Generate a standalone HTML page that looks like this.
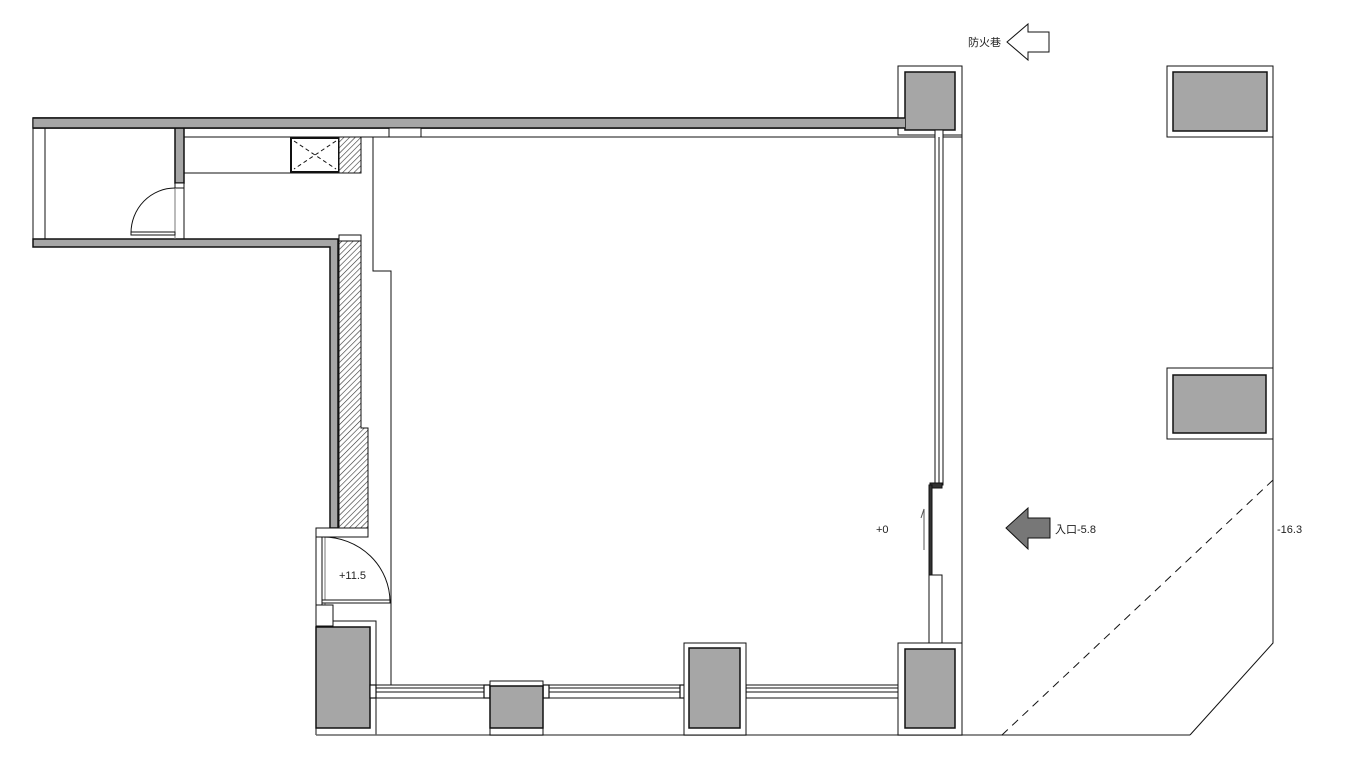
<!DOCTYPE html>
<html><head><meta charset="utf-8"><style>
html,body{margin:0;padding:0;background:#fff;}
svg{display:block;}
text{font-family:"Liberation Sans","Noto Sans CJK TC",sans-serif;font-size:11px;fill:#222;}
</style></head><body>
<svg width="1358" height="770" viewBox="0 0 1358 770" xmlns="http://www.w3.org/2000/svg">
<defs>
<pattern id="h" width="4" height="4" patternUnits="userSpaceOnUse" patternTransform="rotate(45)">
<rect width="4" height="4" fill="#fff"/><line x1="0" y1="0" x2="0" y2="4" stroke="#333" stroke-width="1.2"/>
</pattern>
</defs>
<g stroke="#111" stroke-width="1" fill="none">
<!-- top wall -->
<rect x="33" y="118" width="872" height="10" fill="#a6a6a6" stroke-width="1.5"/>
<!-- left room -->
<line x1="33" y1="128" x2="33" y2="239"/><line x1="45" y1="128" x2="45" y2="239"/>
<path d="M33 239 H338 V528 H330 V247 H33 Z" fill="#a6a6a6" stroke-width="1.5"/>
<rect x="175" y="128" width="9" height="55" fill="#a6a6a6" stroke-width="1.5"/>
<rect x="175" y="183" width="9" height="5" fill="#fff"/>
<line x1="175" y1="188" x2="175" y2="239" stroke="#777"/><line x1="184" y1="188" x2="184" y2="239"/>
<path d="M175 188 A44 45 0 0 0 131 233"/>
<rect x="131" y="232" width="44" height="3" fill="#fff"/>
<!-- kitchen -->
<line x1="184" y1="137" x2="940" y2="137"/>
<line x1="184" y1="173" x2="340" y2="173"/>
<rect x="291" y="138" width="48" height="34" stroke-width="2"/>
<path d="M294 141 L336 169 M336 141 L294 169" stroke-dasharray="4 3"/>
<rect x="339" y="137" width="22" height="36" fill="url(#h)"/>
<rect x="389" y="128" width="32" height="9" fill="#fff"/>
<!-- inner step line -->
<path d="M373 137 V271 H391 V685"/>
<!-- left hatched wall -->
<path d="M339 235 H361 V428 H368 V528 H339 Z" fill="url(#h)"/>
<rect x="339" y="235" width="22" height="6" fill="#fff"/>
<!-- door -->
<rect x="316" y="528" width="52" height="9" fill="#fff"/>
<line x1="316" y1="537" x2="316" y2="735"/>
<line x1="322" y1="537" x2="322" y2="605"/><line x1="325" y1="537" x2="325" y2="605" stroke="#777"/>
<path d="M323 537 A67 65 0 0 1 390 602"/>
<rect x="322" y="600" width="68" height="3" fill="#fff"/>
<rect x="316" y="605" width="17" height="21" fill="#fff"/>
<path d="M333 621 H376 V735"/>
<rect x="316" y="627" width="54" height="101" fill="#a6a6a6" stroke-width="1.5"/>
<!-- bottom windows -->
<line x1="370" y1="685" x2="905" y2="685"/><line x1="370" y1="688" x2="905" y2="688"/>
<line x1="370" y1="692" x2="905" y2="692"/><line x1="370" y1="698" x2="905" y2="698"/>
<line x1="316" y1="735" x2="1190" y2="735" stroke="#666" stroke-width="1.5"/>
<g stroke-width="1.2" fill="#fff">
<rect x="370" y="685" width="6" height="13"/><rect x="484" y="685" width="6" height="13"/>
<rect x="543" y="685" width="6" height="13"/><rect x="680" y="685" width="6" height="13"/>
<rect x="740" y="685" width="6" height="13"/><rect x="899" y="685" width="6" height="13"/>
</g>
<rect x="490" y="681" width="53" height="54" fill="#fff"/>
<rect x="490" y="686" width="53" height="42" fill="#a6a6a6" stroke-width="1.5"/>
<rect x="684" y="643" width="62" height="92" fill="#fff"/>
<rect x="689" y="648" width="51" height="80" fill="#a6a6a6" stroke-width="1.5"/>
<rect x="898" y="643" width="64" height="92" fill="#fff"/>
<rect x="905" y="649" width="50" height="79" fill="#a6a6a6" stroke-width="1.5"/>
<!-- top right column -->
<rect x="898" y="66" width="64" height="69" fill="#fff"/>
<rect x="905" y="72" width="50" height="58" fill="#a6a6a6" stroke-width="1.5"/>
<rect x="33" y="118" width="872" height="10" fill="#a6a6a6" stroke="none"/>
<line x1="33" y1="118" x2="905" y2="118" stroke-width="1.5"/><line x1="33" y1="128" x2="905" y2="128" stroke-width="1.5"/>
<line x1="33" y1="118" x2="33" y2="128"/>
<rect x="389" y="128" width="32" height="9" fill="#fff"/>
<!-- right wall -->
<line x1="962" y1="135" x2="962" y2="735"/>
<line x1="940" y1="137" x2="962" y2="137"/>
<rect x="935" y="130" width="8" height="355" fill="#fff"/>
<line x1="939" y1="137" x2="939" y2="485"/>
<rect x="930" y="483" width="12" height="5" fill="#333"/>
<rect x="929" y="485" width="3" height="90" fill="#333"/>
<rect x="929" y="575" width="13" height="68" fill="#fff"/>
<path d="M921 518 L924 509 L924 550" stroke="#555"/>
<!-- far right -->
<rect x="1167" y="66" width="106" height="71" fill="#fff"/>
<rect x="1173" y="72" width="94" height="59" fill="#a6a6a6" stroke-width="1.5"/>
<rect x="1167" y="368" width="106" height="71" fill="#fff"/>
<rect x="1173" y="375" width="93" height="58" fill="#a6a6a6" stroke-width="1.5"/>
<path d="M1273 137 V368 M1273 439 V643 L1190 735"/>
<line x1="1002" y1="735" x2="1273" y2="480" stroke-dasharray="8 6"/>
<!-- arrows -->
<path d="M1007 42 L1028 24 V32 H1049 V52 H1028 V60 Z" fill="#fff"/>
<path d="M1006 528 L1028 508 V518 H1050 V538 H1028 V549 Z" fill="#777"/>
</g>
<text x="968" y="46">防火巷</text>
<text x="1055" y="533">入口-5.8</text>
<text x="1277" y="533">-16.3</text>
<text x="876" y="533">+0</text>
<text x="339" y="579">+11.5</text>
</svg>
</body></html>
